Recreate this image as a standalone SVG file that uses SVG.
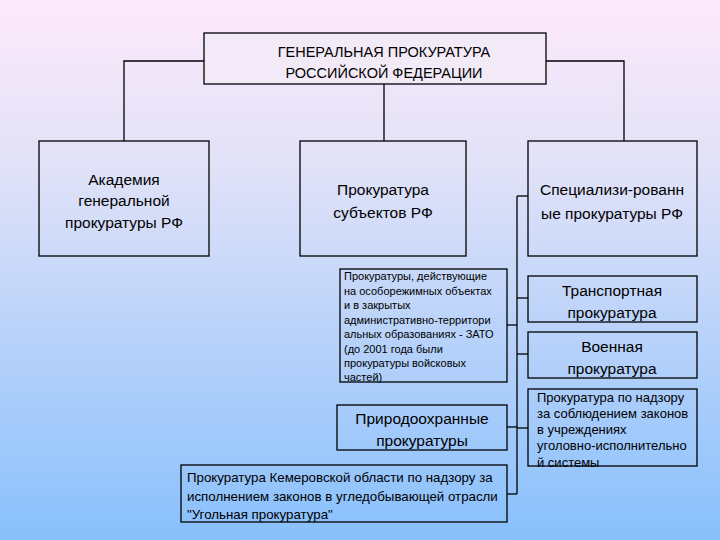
<svg xmlns="http://www.w3.org/2000/svg" width="720" height="540" viewBox="0 0 720 540">
<defs>
<linearGradient id="bg" x1="0" y1="0" x2="0" y2="1">
<stop offset="0" stop-color="#fde9fa"/>
<stop offset="0.3" stop-color="#e2e2f8"/>
<stop offset="1" stop-color="#88c0fc"/>
</linearGradient>
<style>
.box{fill:none;stroke:#000;stroke-width:1.3}
.ln{fill:none;stroke:#000;stroke-width:1.3}
text{font-family:"Liberation Sans","DejaVu Sans",sans-serif;fill:#000}
.c{text-anchor:middle;font-size:15.5px}
.t{text-anchor:middle;font-size:14.5px}
.s{font-size:11px}
.m{font-size:13px}
.k{font-size:13.3px}
</style>
</defs>
<rect width="720" height="540" fill="url(#bg)"/>
<g id="connectors">
<polyline class="ln" points="124,141 124,61 624,61 624,141"/>
<line class="ln" x1="384" y1="84" x2="384" y2="141"/>
<line class="ln" x1="528" y1="196" x2="517" y2="196"/>
<line class="ln" x1="517" y1="196" x2="517" y2="494"/>
<line class="ln" x1="517" y1="298" x2="528" y2="298"/>
<line class="ln" x1="517" y1="354" x2="528" y2="354"/>
<line class="ln" x1="517" y1="428" x2="528" y2="428"/>
<line class="ln" x1="507" y1="325" x2="517" y2="325"/>
<line class="ln" x1="507" y1="427" x2="517" y2="427"/>
<line class="ln" x1="507" y1="494" x2="517" y2="494"/>
</g>
<g id="root">
<rect class="box" x="204" y="33" width="342" height="51" style="fill:#f3eaf8"/>
<text class="t" x="384" y="57">ГЕНЕРАЛЬНАЯ ПРОКУРАТУРА</text>
<text class="t" x="384" y="78">РОССИЙСКОЙ ФЕДЕРАЦИИ</text>
</g>
<g id="academy">
<rect class="box" x="39" y="141" width="170" height="115"/>
<text class="c" x="124" y="185">Академия</text>
<text class="c" x="124" y="206">генеральной</text>
<text class="c" x="124" y="228">прокуратуры РФ</text>
</g>
<g id="subjects">
<rect class="box" x="300" y="141" width="166" height="115"/>
<text class="c" x="383" y="195">Прокуратура</text>
<text class="c" x="383" y="218">субъектов РФ</text>
</g>
<g id="special">
<rect class="box" x="528" y="141" width="169" height="115"/>
<text class="c" x="612" y="195">Специализи-рованн</text>
<text class="c" x="612" y="219">ые прокуратуры РФ</text>
</g>
<g id="zato">
<rect class="box" x="340" y="269" width="167" height="113"/>
<text class="s" x="344" y="280">Прокуратуры, действующие</text>
<text class="s" x="344" y="295">на особорежимных объектах</text>
<text class="s" x="344" y="309">и в закрытых</text>
<text class="s" x="344" y="324">административно-территори</text>
<text class="s" x="344" y="338">альных образованиях - ЗАТО</text>
<text class="s" x="344" y="353">(до 2001 года были</text>
<text class="s" x="344" y="367">прокуратуры войсковых</text>
<text class="s" x="344" y="381">частей)</text>
</g>
<g id="transport">
<rect class="box" x="528" y="276" width="169" height="46"/>
<text class="c" x="612" y="296">Транспортная</text>
<text class="c" x="612" y="318">прокуратура</text>
</g>
<g id="military">
<rect class="box" x="528" y="332" width="169" height="46"/>
<text class="c" x="612" y="352">Военная</text>
<text class="c" x="612" y="374">прокуратура</text>
</g>
<g id="penal">
<rect class="box" x="528" y="389" width="169" height="77"/>
<text class="m" x="537" y="402">Прокуратура по надзору</text>
<text class="m" x="537" y="418">за соблюдением законов</text>
<text class="m" x="537" y="434">в учреждениях</text>
<text class="m" x="537" y="450">уголовно-исполнительно</text>
<text class="m" x="537" y="467">й системы</text>
</g>
<g id="nature">
<rect class="box" x="337" y="405" width="170" height="45"/>
<text class="c" x="422" y="424">Природоохранные</text>
<text class="c" x="422" y="446">прокуратуры</text>
</g>
<g id="kemerovo">
<rect class="box" x="181" y="465" width="326" height="57"/>
<text class="k" x="187" y="482">Прокуратура Кемеровской области по надзору за</text>
<text class="k" x="187" y="501">исполнением законов в угледобывающей отрасли</text>
<text class="k" x="187" y="519">"Угольная прокуратура"</text>
</g>
</svg>
